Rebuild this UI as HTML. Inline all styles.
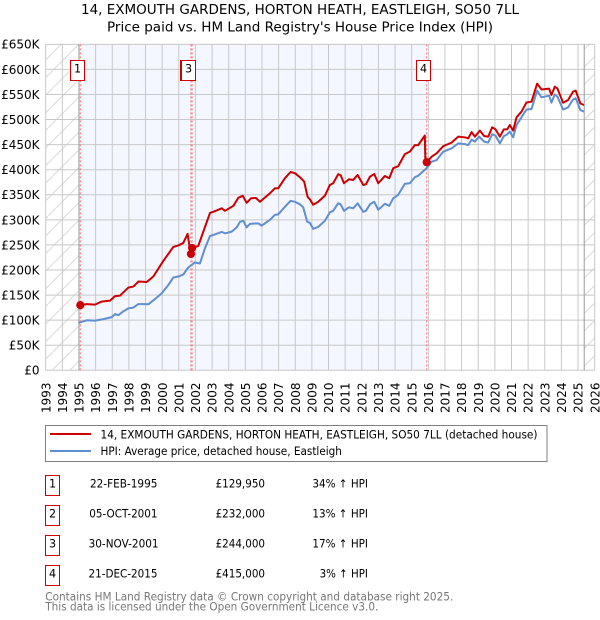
<!DOCTYPE html>
<html lang="en">
<head>
<meta charset="utf-8">
<title>14, Exmouth Gardens price paid vs HPI</title>
<style>
html,body{margin:0;padding:0;background:#fff;width:600px;height:620px;overflow:hidden}
svg{display:block}
text{font-family:"DejaVu Sans","Liberation Sans",sans-serif;fill:#000}
</style>
</head>
<body>
<svg id="chart" xmlns="http://www.w3.org/2000/svg" width="600" height="620" viewBox="0 0 600 620">
<defs>
<pattern id="hatch" width="17.6" height="17.6" patternUnits="userSpaceOnUse">
<line x1="0" y1="17.6" x2="17.6" y2="0" stroke="#d8d8d8" stroke-width="1"/>
</pattern>
</defs>
<text x="300" y="14" font-size="13.2" text-anchor="middle" textLength="438" lengthAdjust="spacingAndGlyphs">14, EXMOUTH GARDENS, HORTON HEATH, EASTLEIGH, SO50 7LL</text>
<text x="300" y="31.5" font-size="13.2" text-anchor="middle" textLength="386" lengthAdjust="spacingAndGlyphs">Price paid vs. HM Land Registry's House Price Index (HPI)</text>
<g id="plot"></g>

<rect x="45.5" y="425.5" width="501.5" height="36" fill="#fff" stroke="#808080" stroke-width="1"/>
<line x1="50" x2="91" y1="434" y2="434" stroke="#cc0000" stroke-width="2"/>
<text x="100.5" y="438.3" font-size="11.2" textLength="437" lengthAdjust="spacingAndGlyphs">14, EXMOUTH GARDENS, HORTON HEATH, EASTLEIGH, SO50 7LL (detached house)</text>
<line x1="50" x2="91" y1="451" y2="451" stroke="#5f8fd0" stroke-width="2"/>
<text x="100.5" y="455" font-size="11.2" textLength="241.4" lengthAdjust="spacingAndGlyphs">HPI: Average price, detached house, Eastleigh</text>

<g>
<rect x="45.5" y="475.5" width="14" height="20" fill="#fff" stroke="#cc0000"/>
<text x="52.5" y="487.5" font-size="11.2" text-anchor="middle">1</text>
<text x="123.7" y="487.5" font-size="11.2" text-anchor="middle" textLength="67.5" lengthAdjust="spacingAndGlyphs">22-FEB-1995</text>
<text x="240.3" y="487.5" font-size="11.2" text-anchor="middle" textLength="49.4" lengthAdjust="spacingAndGlyphs">£129,950</text>
<text x="340.2" y="487.5" font-size="11.2" text-anchor="middle" textLength="55.6" lengthAdjust="spacingAndGlyphs">34% ↑ HPI</text>
</g>
<g>
<rect x="45.5" y="505.5" width="14" height="20" fill="#fff" stroke="#cc0000"/>
<text x="52.5" y="517.5" font-size="11.2" text-anchor="middle">2</text>
<text x="123.4" y="517.5" font-size="11.2" text-anchor="middle" textLength="68.2" lengthAdjust="spacingAndGlyphs">05-OCT-2001</text>
<text x="240.3" y="517.5" font-size="11.2" text-anchor="middle" textLength="49.4" lengthAdjust="spacingAndGlyphs">£232,000</text>
<text x="340.2" y="517.5" font-size="11.2" text-anchor="middle" textLength="55.6" lengthAdjust="spacingAndGlyphs">13% ↑ HPI</text>
</g>
<g>
<rect x="45.5" y="535.5" width="14" height="20" fill="#fff" stroke="#cc0000"/>
<text x="52.5" y="547.5" font-size="11.2" text-anchor="middle">3</text>
<text x="123.6" y="547.5" font-size="11.2" text-anchor="middle" textLength="70" lengthAdjust="spacingAndGlyphs">30-NOV-2001</text>
<text x="240.3" y="547.5" font-size="11.2" text-anchor="middle" textLength="49.4" lengthAdjust="spacingAndGlyphs">£244,000</text>
<text x="340.2" y="547.5" font-size="11.2" text-anchor="middle" textLength="55.6" lengthAdjust="spacingAndGlyphs">17% ↑ HPI</text>
</g>
<g>
<rect x="45.5" y="565.5" width="14" height="20" fill="#fff" stroke="#cc0000"/>
<text x="52.5" y="577.5" font-size="11.2" text-anchor="middle">4</text>
<text x="123" y="577.5" font-size="11.2" text-anchor="middle" textLength="69" lengthAdjust="spacingAndGlyphs">21-DEC-2015</text>
<text x="240.3" y="577.5" font-size="11.2" text-anchor="middle" textLength="49.4" lengthAdjust="spacingAndGlyphs">£415,000</text>
<text x="343.8" y="577.5" font-size="11.2" text-anchor="middle" textLength="48.3" lengthAdjust="spacingAndGlyphs">3% ↑ HPI</text>
</g>
<text x="45.3" y="600.5" font-size="11.2" textLength="408" lengthAdjust="spacingAndGlyphs" style="fill:#777">Contains HM Land Registry data © Crown copyright and database right 2025.</text>
<text x="45.3" y="610.5" font-size="11.2" textLength="333" lengthAdjust="spacingAndGlyphs" style="fill:#777">This data is licensed under the Open Government Licence v3.0.</text>
</svg>

<script>
const yearTicks = [1993,1994,1995,1996,1997,1998,1999,2000,2001,2002,2003,2004,2005,2006,2007,2008,2009,2010,2011,2012,2013,2014,2015,2016,2017,2018,2019,2020,2021,2022,2023,2024,2025,2026];
const priceTicks = [0,50,100,150,200,250,300,350,400,450,500,550,600,650];
const priceTickLabels = ['£0','£50K','£100K','£150K','£200K','£250K','£300K','£350K','£400K','£450K','£500K','£550K','£600K','£650K'];

const hpiYears = [1994.96,1995.46,1995.96,1996.47,1996.97,1997.17,1997.37,1997.67,1997.97,1998.27,1998.57,1998.97,1999.17,1999.57,1999.97,2000.37,2000.67,2000.97,2001.27,2001.57,2001.97,2002.27,2002.57,2002.88,2003.08,2003.58,2003.78,2004.18,2004.48,2004.68,2004.88,2005.08,2005.28,2005.78,2005.98,2006.48,2006.78,2006.98,2007.38,2007.72,2007.98,2008.28,2008.48,2008.72,2008.88,2009.08,2009.38,2009.78,2010.08,2010.28,2010.58,2010.73,2010.93,2011.23,2011.48,2011.75,2012.09,2012.25,2012.49,2012.75,2012.99,2013.39,2013.65,2013.89,2014.19,2014.59,2014.89,2015.19,2015.39,2015.89,2016.2,2016.5,2016.9,2017.4,2017.8,2018.2,2018.4,2018.6,2018.8,2019.05,2019.36,2019.6,2019.84,2020.04,2020.3,2020.54,2020.74,2020.9,2021.1,2021.3,2021.6,2021.9,2022.2,2022.54,2022.8,2023.26,2023.4,2023.6,2023.76,2024.1,2024.4,2024.7,2024.86,2025.14,2025.35];
const hpiValues = [94.4,99.7,99,102,106,112,110,117.6,123.6,125,132,132,131.6,142,153.5,170,185,187,191,205,215,213,243,268,270,276,273,276.5,285,296,298,285,292,293,288.5,300,310,311,326,338,336,331,325,296,294,282,286,298,315,318,333,331,318,325,323,333,316,318,331,336,320,332,328,343,350,372,373,385,388,403,416,419.3,436,442.6,452.5,451,449,460,456,466,456,454,470.5,468,452.5,467,470.5,476,464.5,489,504.4,520,521,557.6,544.3,547.6,533.6,550,545.6,520,524.3,540,542.3,519,515.7];

const priceYears = [1995.06,1995.46,1995.96,1996.36,1996.87,1997.17,1997.47,1997.97,1998.27,1998.57,1999.07,1999.47,2000.07,2000.67,2000.97,2001.27,2001.53,2001.63,2001.73,2001.84,2002.17,2002.47,2002.88,2003.08,2003.58,2003.78,2004.28,2004.58,2004.84,2005.08,2005.34,2005.64,2005.88,2006.48,2006.78,2006.98,2007.38,2007.72,2007.98,2008.28,2008.54,2008.74,2008.88,2009.08,2009.38,2009.78,2010.08,2010.28,2010.58,2010.73,2010.93,2011.23,2011.48,2011.75,2012.09,2012.25,2012.49,2012.75,2012.99,2013.39,2013.65,2013.89,2014.19,2014.59,2014.89,2015.19,2015.39,2015.79,2015.82,2015.9,2016.2,2016.5,2016.9,2017.4,2017.8,2018.2,2018.4,2018.6,2018.8,2019.1,2019.36,2019.6,2019.84,2020.04,2020.3,2020.54,2020.74,2020.9,2021.1,2021.3,2021.6,2021.9,2022.2,2022.54,2022.8,2023.26,2023.4,2023.6,2023.76,2024.1,2024.4,2024.7,2024.86,2025.14,2025.35];
const priceValues = [129.95,132,131,137,139,148,149,165,167,177,176,187,218,246,249,254,272,250,232,244,248,276,314,316,323,318,328,344,348,334,343,343.6,336,353,363,363,383,395.4,393,385,376,346,341,330,336,348,369.5,373,391,389,373,381,379.5,389.5,369.5,371,386,391.5,373,387.5,383,403,407,431,436,449,449,468,420,415,426,432.6,447,454,466,464.5,462.5,475,466,478,467,466,484.5,480.5,466,480.5,480.5,489,478,504.4,515.7,534,535.6,571.5,560,561.6,549,565.5,562,533.6,539,555.6,557.6,532,529];

const saleLabels = ['1','2','3','4'];
const saleYears = [1995.08,2001.73,2001.8,2015.9];
const saleValues = [129.95,232,244,415];

const dataStartYear = 1995;
const dataEndYear = 2025.37;
const shadeStartYear = 1995.08;
const shadeEndYear = 2015.9;

const xScale = function (year) { return 45.7 + (year - 1993) * 16.636; };
const yScale = function (k) { return 370.3 - k * 0.5015; };

const NS = 'http://www.w3.org/2000/svg';
const plot = document.getElementById('plot');
function make(tag, attrs, parent) {
  const el = document.createElementNS(NS, tag);
  for (const k in attrs) { el.setAttribute(k, attrs[k]); }
  (parent || plot).appendChild(el);
  return el;
}
const x0 = xScale(1993), x1 = xScale(2026), yTop = yScale(650), yBot = yScale(0);

const hatchLeft = make('rect', {x: x0, y: yTop, width: xScale(dataStartYear) - x0, height: yBot - yTop, fill: 'url(#hatch)'});


const hatchRight = make('rect', {x: xScale(dataEndYear), y: yTop, width: x1 - xScale(dataEndYear), height: yBot - yTop, fill: 'url(#hatch)'});


const shade = make('rect', {x: xScale(shadeStartYear), y: yTop, width: xScale(shadeEndYear) - xScale(shadeStartYear), height: yBot - yTop, fill: '#f4f7ff'});



yearTicks.forEach(function (yr) {
  const gx = xScale(yr);
  const line = make('line', {x1: gx, x2: gx, y1: yTop, y2: yBot, stroke: '#c8c8c8', 'stroke-width': 1});
  
  
  const lab = make('text', {transform: 'translate(' + (xScale(yr) + 4.6) + ',382.5) rotate(-90)', 'font-size': 12, 'text-anchor': 'end'});
  lab.textContent = yr;
  
  
});
priceTicks.forEach(function (k, i) {
  const gy = yScale(k);
  const line = make('line', {x1: x0, x2: x1, y1: gy, y2: gy, stroke: '#c8c8c8', 'stroke-width': 1});
  
  
  const lab = make('text', {x: 39.5, y: gy + 4.4, 'font-size': 12, 'text-anchor': 'end'});
  lab.textContent = priceTickLabels[i];
  
  
});

[dataStartYear, dataEndYear].forEach(function (yr) {
  const edge = make('line', {x1: xScale(yr), x2: xScale(yr), y1: yTop, y2: yBot, stroke: '#999', 'stroke-width': 1});
  
  
});

saleYears.forEach(function (yr) {
  const d = make('line', {x1: xScale(yr), x2: xScale(yr), y1: yTop, y2: yBot, stroke: '#ff6f6f', 'stroke-width': 1, 'stroke-dasharray': '2 2'});
  
  
});

function pathFrom(xs, ys) {
  return xs.map(function (yr, i) { return (i ? 'L' : 'M') + xScale(yr).toFixed(2) + ' ' + yScale(ys[i]).toFixed(2); }).join('');
}
const hpiLine = make('path', {d: pathFrom(hpiYears, hpiValues), fill: 'none', stroke: '#5f8fd0', 'stroke-width': 2, 'stroke-linejoin': 'round'});


const priceLine = make('path', {d: pathFrom(priceYears, priceValues), fill: 'none', stroke: '#cc0000', 'stroke-width': 2, 'stroke-linejoin': 'round'});



saleYears.forEach(function (yr, i) {
  const m = make('circle', {cx: xScale(yr), cy: yScale(saleValues[i]), r: 4.1, fill: '#cc0000'});
  
  
  const bx = Math.floor(xScale(yr) - 10.3) + 0.5;
  const box = make('rect', {x: bx, y: 60.5, width: 14, height: 20, fill: '#fff', stroke: '#cc0000', 'stroke-width': 1});
  
  
  const t = make('text', {x: bx + 7, y: 72.5, 'font-size': 11.2, 'text-anchor': 'middle'});
  t.textContent = saleLabels[i];
  
  
});
</script>
</body>
</html>
